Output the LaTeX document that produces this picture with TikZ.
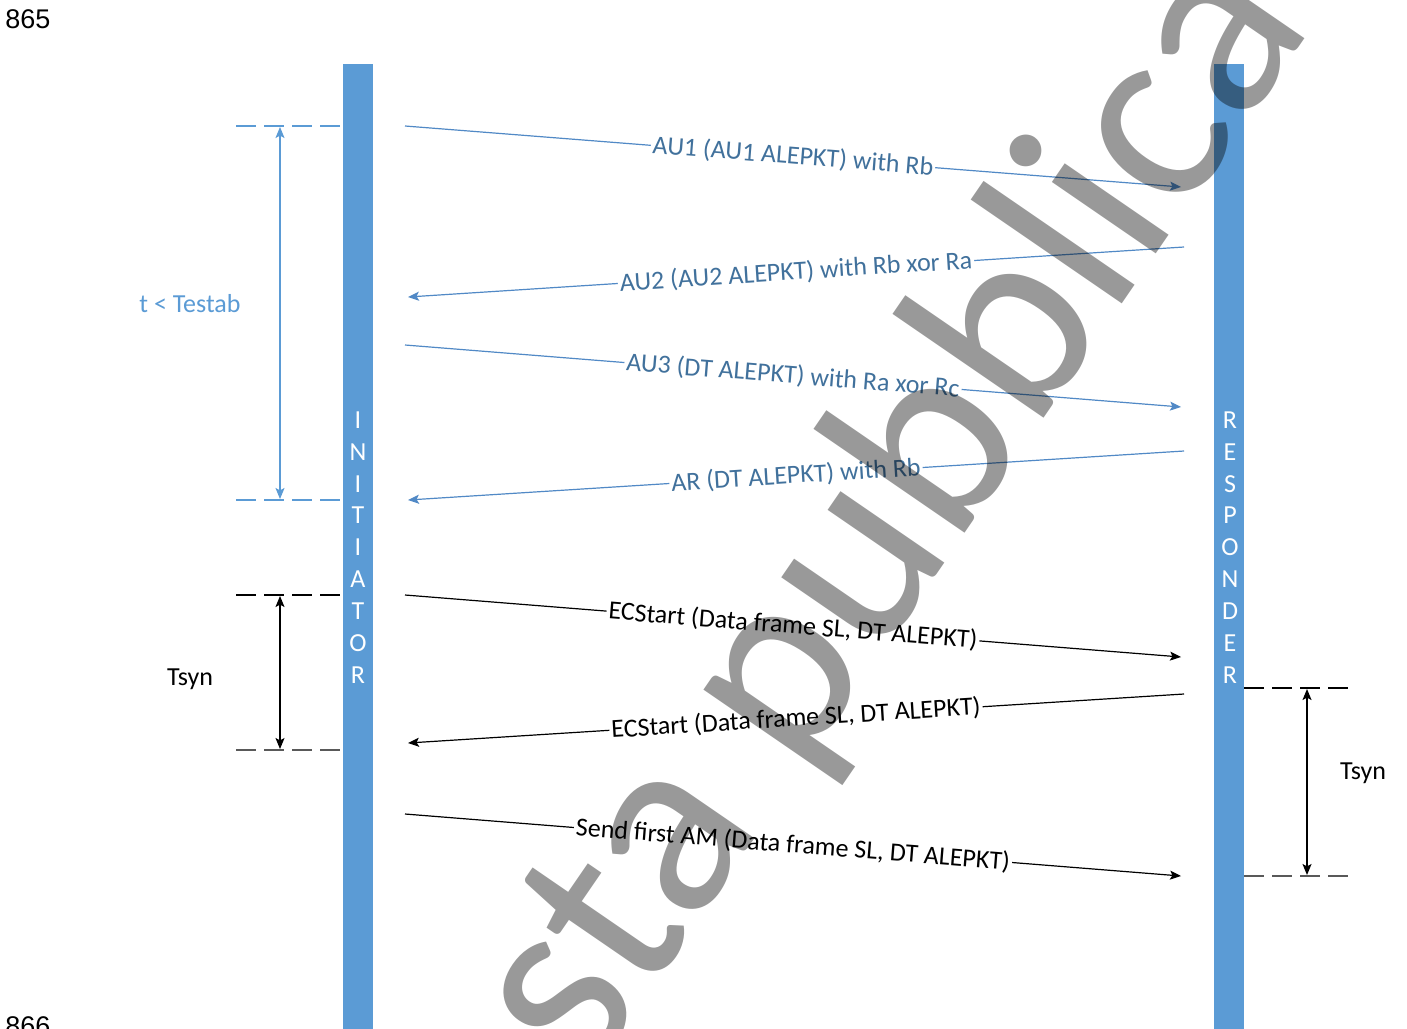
\documentclass[tikz,border=0pt]{standalone}
\usepackage{fontspec}
\setmainfont{Carlito}
\newfontfamily\arialfont{Liberation Sans}
\usetikzlibrary{arrows.meta}
\definecolor{barblue}{HTML}{5B9BD5}
\definecolor{txtblue}{HTML}{41719C}
\definecolor{lineblue}{HTML}{5189C6}
\begin{document}
\begin{tikzpicture}[x=0.5pt,y=-0.5pt,
  font=\fontsize{13}{15.6}\selectfont,
  msg/.style={line width=0.6pt,-{Stealth[length=5.5pt,width=4.5pt,inset=1.2pt]}},
  bluemsg/.style={msg,draw=lineblue},
  blackmsg/.style={msg,draw=black},
  lbl/.style={sloped,fill=white,inner sep=1pt,pos=0.5},
  bluelbl/.style={lbl,text=txtblue},
  dimarrow/.style={line width=0.6pt,{Stealth[length=5.5pt,width=4.5pt,inset=1.2pt]}-{Stealth[length=5.5pt,width=4.5pt,inset=1.2pt]}},
  dashln/.style={line width=0.6pt,dash pattern=on 10pt off 4pt},
  barletter/.style={text=white,inner sep=0pt},
  pagenum/.style={font=\arialfont\fontsize{13.5}{13.5}\selectfont,anchor=base west,inner sep=0pt},
  wm/.style={font=\fontsize{132}{132}\selectfont,text=black,text opacity=0.4,inner sep=0pt,anchor=base west}
]
\path[use as bounding box,clip] (0,0) rectangle (1407,1028);
\fill[white] (0,0) rectangle (1407,1028);

% page numbers
\node[pagenum] (p865) at (5,28) {865};
\node[pagenum] (p866) at (5,1035) {866};

% lifelines
\fill[barblue] (343,64) rectangle (373,1040);
\fill[barblue] (1214,64) rectangle (1244,1040);
\foreach \l [count=\i] in {I,N,I,T,I,A,T,O,R}
  \node[barletter] (ini\i) at (358,{420+31.875*(\i-1)}) {\l};
\foreach \l [count=\i] in {R,E,S,P,O,N,D,E,R}
  \node[barletter] (res\i) at (1230,{420+31.875*(\i-1)}) {\l};

% t < Testab
\coordinate (ta) at (236,126);
\coordinate (tb) at (343,126);
\coordinate (tc) at (236,500);
\coordinate (td) at (343,500);
\coordinate (tu) at (280,127);
\coordinate (tl) at (280,499);
\draw[dashln,barblue] (ta) -- (tb);
\draw[dashln,barblue] (tc) -- (td);
\draw[dimarrow,barblue] (tu) -- (tl);
\node[text=barblue] (testab) at (190,304) {t < Testab};

% Tsyn left
\coordinate (la) at (236,595);
\coordinate (lb) at (343,595);
\coordinate (lc) at (236,750);
\coordinate (ld) at (343,750);
\coordinate (lu) at (280,596);
\coordinate (ll) at (280,749);
\draw[dashln,black] (la) -- (lb);
\draw[dashln,black!65] (lc) -- (ld);
\draw[dimarrow,black] (lu) -- (ll);
\node (tsynl) at (190,679) {Tsyn};

% Tsyn right
\coordinate (ra) at (1244,688);
\coordinate (rb) at (1352,688);
\coordinate (rc) at (1244,876);
\coordinate (rd) at (1352,876);
\coordinate (ru) at (1307,689);
\coordinate (rl) at (1307,875);
\draw[dashln,black] (ra) -- (rb);
\draw[dashln,black!65] (rc) -- (rd);
\draw[dimarrow,black] (ru) -- (rl);
\node (tsynr) at (1363,773) {Tsyn};

% messages
\coordinate (m1s) at (405,126);  \coordinate (m1e) at (1181,187);
\coordinate (m2s) at (1184,247); \coordinate (m2e) at (408,297);
\coordinate (m3s) at (405,345);  \coordinate (m3e) at (1181,407);
\coordinate (m4s) at (1184,451); \coordinate (m4e) at (408,500);
\coordinate (m5s) at (405,595);  \coordinate (m5e) at (1181,657);
\coordinate (m6s) at (1184,694); \coordinate (m6e) at (408,743);
\coordinate (m7s) at (405,814);  \coordinate (m7e) at (1181,876);

\draw[bluemsg] (m1s) -- node[bluelbl] (l1) {AU1 (AU1 ALEPKT) with Rb} (m1e);
\draw[bluemsg] (m2s) -- node[bluelbl] (l2) {AU2 (AU2 ALEPKT) with Rb xor Ra} (m2e);
\draw[bluemsg] (m3s) -- node[bluelbl] (l3) {AU3 (DT ALEPKT) with Ra xor Rc} (m3e);
\draw[bluemsg] (m4s) -- node[bluelbl] (l4) {AR (DT ALEPKT) with Rb} (m4e);
\draw[blackmsg] (m5s) -- node[lbl] (l5) {ECStart (Data frame SL, DT ALEPKT)} (m5e);
\draw[blackmsg] (m6s) -- node[lbl] (l6) {ECStart (Data frame SL, DT ALEPKT)} (m6e);
\draw[blackmsg] (m7s) -- node[lbl] (l7) {Send first AM (Data frame SL, DT ALEPKT)} (m7e);

% watermark
\node[wm,rotate=55.5] (wmark) at (587,1083) {sta pubblica};
\end{tikzpicture}
\end{document}
